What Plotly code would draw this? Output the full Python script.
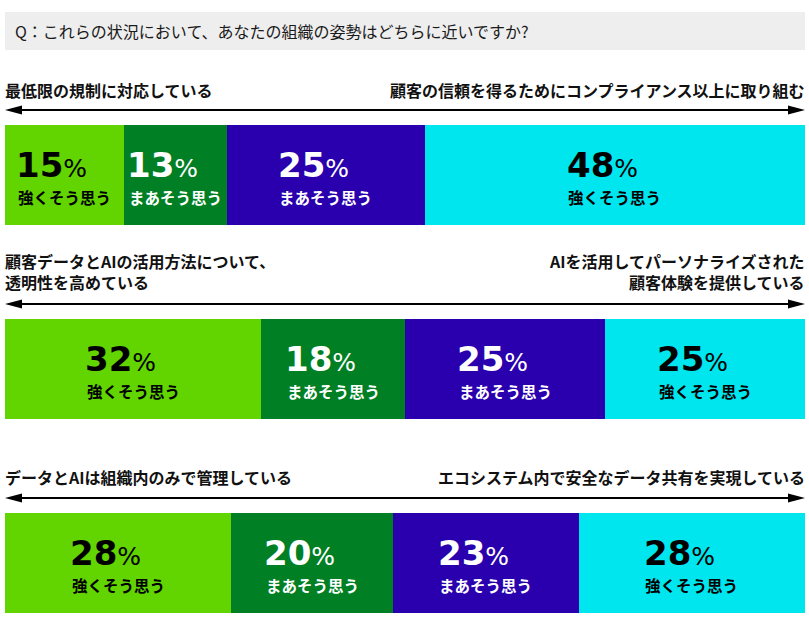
import plotly.graph_objects as go

# ---- data ----
left_labels = [
    "最低限の規制に対応している",
    "顧客データとAIの活用方法について、<br>透明性を高めている",
    "データとAIは組織内のみで管理している",
]
right_labels = [
    "顧客の信頼を得るためにコンプライアンス以上に取り組む",
    "AIを活用してパーソナライズされた<br>顧客体験を提供している",
    "エコシステム内で安全なデータ共有を実現している",
]
series_names = ["強くそう思う", "まあそう思う", "まあそう思う", "強くそう思う"]
left_strong = [15, 32, 28]
left_some = [13, 18, 20]
right_some = [25, 25, 23]
right_strong = [48, 25, 28]
title_text = "Q：これらの状況において、あなたの組織の姿勢はどちらに近いですか?"

series_values = [left_strong, left_some, right_some, right_strong]
colors = ["#62D400", "#007F24", "#2A00AE", "#00E6EF"]
text_colors = ["#000000", "#FFFFFF", "#FFFFFF", "#000000"]

rows = list(range(len(left_labels)))
JP = "Noto Sans CJK JP"
NUM = "DejaVu Sans"

fig = go.Figure()
for name, vals, col in zip(series_names, series_values, colors):
    fig.add_trace(go.Bar(
        x=vals, y=rows, orientation="h", name=name,
        marker=dict(color=col, line=dict(width=0)),
        width=0.515, hoverinfo="skip",
    ))

annotations = []
shapes = []

# segment labels computed from data
for r in rows:
    total = sum(s[r] for s in series_values)
    cum = 0
    for k, (name, vals) in enumerate(zip(series_names, series_values)):
        v = vals[r]
        mid = (cum + v / 2) / total * 100
        cum += v
        annotations.append(dict(
            x=mid, y=r, xref="x", yref="y", xanchor="left", yanchor="middle",
            xshift=-50, yshift=10.5, showarrow=False,
            text=f"<b>{v}</b><span style='font-size:25px'>%</span>",
            font=dict(family=NUM, size=34, color=text_colors[k]),
        ))
        annotations.append(dict(
            x=mid, y=r, xref="x", yref="y", xanchor="center", yanchor="middle",
            yshift=-21.5, showarrow=False, text=name,
            font=dict(family=JP, size=15.5, color=text_colors[k], weight="bold"),
        ))

header_shift = [85, 98, 86]
arrow_shift = [65, 65, 65]
for r in rows:
    annotations.append(dict(
        x=0, y=r, xref="x", yref="y", xanchor="left", yanchor="middle",
        yshift=header_shift[r], xshift=-2, showarrow=False, align="left",
        text=left_labels[r],
        font=dict(family=JP, size=16, color="#111111", weight="bold"),
    ))
    annotations.append(dict(
        x=100, y=r, xref="x", yref="y", xanchor="right", yanchor="middle",
        yshift=header_shift[r], xshift=2, showarrow=False, align="right",
        text=right_labels[r],
        font=dict(family=JP, size=16, color="#111111", weight="bold"),
    ))
    a = arrow_shift[r]
    shapes.append(dict(
        type="line", xref="x", x0=1, x1=99, yref="y", ysizemode="pixel",
        yanchor=r, y0=a, y1=a, line=dict(color="#000000", width=2),
    ))
    shapes.append(dict(
        type="path", xref="x", xsizemode="pixel", xanchor=0,
        yref="y", ysizemode="pixel", yanchor=r,
        path=f"M0,{a} L17,{a+4.5} L17,{a-4.5} Z",
        fillcolor="#000000", line=dict(width=0),
    ))
    shapes.append(dict(
        type="path", xref="x", xsizemode="pixel", xanchor=100,
        yref="y", ysizemode="pixel", yanchor=r,
        path=f"M0,{a} L-17,{a+4.5} L-17,{a-4.5} Z",
        fillcolor="#000000", line=dict(width=0),
    ))

# title box
shapes.append(dict(
    type="rect", xref="x", x0=0, x1=100, yref="y", ysizemode="pixel",
    yanchor=0, y0=125, y1=163, fillcolor="#EEEEEE", line=dict(width=0),
    layer="below",
))
annotations.append(dict(
    x=0, y=0, xref="x", yref="y", xanchor="left", yanchor="middle",
    xshift=8, yshift=144, showarrow=False, text=title_text,
    font=dict(family=JP, size=16, color="#1A1A1A"),
))

fig.update_layout(
    width=809, height=636,
    margin=dict(l=5, r=4, t=0, b=0),
    barmode="stack", barnorm="percent",
    paper_bgcolor="white", plot_bgcolor="white",
    showlegend=False,
    xaxis=dict(range=[0, 100], visible=False, fixedrange=True),
    yaxis=dict(range=[2.376, -0.902], visible=False, fixedrange=True),
    annotations=annotations, shapes=shapes,
)

fig.write_html("out.html", config={"displayModeBar": False})
